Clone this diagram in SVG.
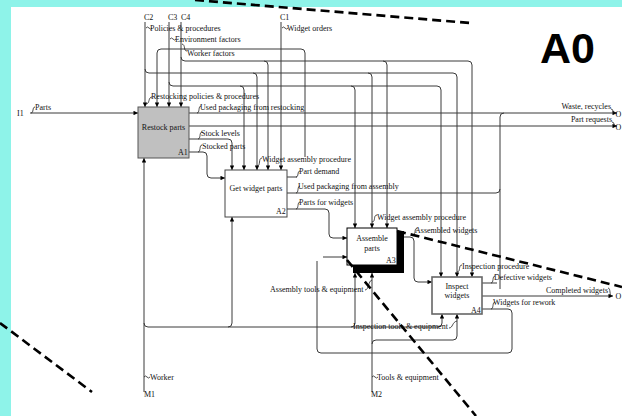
<svg xmlns="http://www.w3.org/2000/svg" width="622" height="416" viewBox="0 0 622 416">
<style>
.t{font-family:"Liberation Serif","Times New Roman",serif;font-size:8px;fill:#111}
.m{text-anchor:middle}
.e{text-anchor:end}
.c{fill:none;stroke:#3a3a3a;stroke-width:1}
.a{marker-end:url(#ah)}
.q{fill:none;stroke:#222;stroke-width:0.8}
.d{fill:none;stroke:#000;stroke-width:2.6;stroke-dasharray:9 5}
.box{fill:#fff;stroke:#444;stroke-width:1}
</style>
<defs>
<marker id="ah" viewBox="0 0 5 5" refX="5" refY="2.5" markerWidth="5" markerHeight="4.5" markerUnits="userSpaceOnUse" orient="auto">
<path d="M0,0 L5,2.5 L0,5 Z" fill="#000"/>
</marker>
</defs>
<rect x="0" y="0" width="622" height="416" fill="#8ef3e9"/>
<rect x="11" y="7" width="611" height="409" fill="#fff"/>
<text x="540" y="63" style="font-family:'Liberation Sans',Arial,sans-serif;font-size:43px;font-weight:bold;fill:#000">A0</text>

<g id="connectors">
<!-- I1 -->
<path class="c a" d="M30,113 H138"/>
<!-- C2 C3 C4 C1 -->
<path class="c a" d="M145,22 V107"/>
<path class="c a" d="M169,22 V107"/>
<path class="c a" d="M181,22 V107"/>
<path class="c a" d="M281,22 V170"/>
<!-- C4 branch y=61 -->
<path class="c a" d="M181,57 Q181,61 185,61 H468 Q472,61 472,65 V277"/>
<path class="c a" d="M264,61 Q268,61 268,65 V170"/>
<path class="c a" d="M383,61 Q387,61 387,65 V228"/>
<!-- C2 branch y=73 -->
<path class="c a" d="M145,69 Q145,73 149,73 H453 Q457,73 457,77 V277"/>
<path class="c a" d="M253,73 Q257,73 257,77 V170"/>
<path class="c a" d="M368,73 Q372,73 372,77 V228"/>
<!-- C3 branch y=86 -->
<path class="c a" d="M169,82 Q169,86 173,86 H437 Q441,86 441,90 V277"/>
<path class="c a" d="M240,86 Q244,86 244,90 V170"/>
<path class="c a" d="M351,86 Q355,86 355,90 V228"/>
<!-- loop to A1 -->
<path class="c a" d="M305,157 V53 Q305,49 301,49 H161 Q157,49 157,53 V107"/>
<!-- A1 outputs -->
<path class="c a" d="M189,113 H617"/>
<path class="c a" d="M189,126 H617"/>
<path class="c a" d="M189,139 H228 Q232,139 232,143 V170"/>
<path class="c a" d="M189,152 H203 Q207,152 207,156 V174 Q207,178 211,178 H225"/>
<!-- A2 outputs -->
<path class="c" d="M287,177 H297"/>
<path class="c" d="M287,193 H496 Q500,193 500,189"/>
<path class="c" d="M500,289 V117 Q500,113 504,113"/>
<path class="c a" d="M287,209 H325 Q329,209 329,213 V234 Q329,238 333,238 H347"/>
<!-- A3 outputs -->
<path class="c a" d="M404,237 H410 Q414,237 414,241 V278 Q414,282 418,282 H432"/>
<!-- A4 outputs -->
<path class="c" d="M482,283 H497"/>
<path class="c a" d="M482,296 H613"/>
<path class="c" d="M482,309 H508 Q512,309 512,313 V349 Q512,353 508,353 H321 Q317,353 317,349 V261"/>
<path class="c a" d="M323,257 H347"/>
<!-- M1 -->
<path class="c a" d="M144,392 V158"/>
<path class="c a" d="M144,323 Q144,327 148,327 H438 Q442,327 442,323 V314"/>
<path class="c a" d="M228,327 Q232,327 232,323 V217"/>
<path class="c a" d="M351,327 Q355,327 355,323 V273"/>
<!-- M2 -->
<path class="c a" d="M372,392 V273"/>
<path class="c a" d="M372,344 Q372,340 376,340 H453 Q457,340 457,336 V314"/>
<!-- squiggles -->
<path class="q" d="M31,113 C34,113 32,107 35,107"/>
<path class="q" d="M146,28 q1.5,-2 3,0 t3,0"/>
<path class="q" d="M170,39 q1.5,-2 3,0 t3,0"/>
<path class="q" d="M182,44 C186,45 183,51 187,51"/>
<path class="q" d="M282,28 q1.5,-2 3,0 t3,0"/>
<path class="q" d="M146,104 C150,104 148,97 152,97"/>
<path class="q" d="M197,113 C200,113 198,106 201,106"/>
<path class="q" d="M198,139 C201,139 199,132 202,132"/>
<path class="q" d="M198,152 C201,152 199,145 202,145"/>
<path class="q" d="M257,166 C261,166 258,158 262,158"/>
<path class="q" d="M296,177 C299,177 297,171 300,171"/>
<path class="q" d="M296,193 C299,193 297,186 300,186"/>
<path class="q" d="M296,209 C299,209 297,202 300,202"/>
<path class="q" d="M372,222 C376,222 373,215 377,215"/>
<path class="q" d="M414,234 C416,233 414,229 417,228"/>
<path class="q" d="M457,272 C461,272 458,265 462,265"/>
<path class="q" d="M491,283 C494,283 492,276 495,276"/>
<path class="q" d="M491,309 C494,309 492,302 495,302"/>
<path class="q" d="M608,288 C611,288 609,296 612,296"/>
<path class="q" d="M611,109 C614,109 612,113 615,113"/>
<path class="q" d="M612,122 C615,122 613,126 616,126"/>
<path class="q" d="M449,328 C453,328 452,322 457,321"/>
<path class="q" d="M365,290 C369,290 368,281 372,280"/>
<path class="q" d="M372,377 q1.5,-2 3,0 t3,0"/>
<path class="q" d="M144,377 q1.5,-2 3,0 t3,0"/>
</g>

<g id="A1">
<rect x="138" y="107" width="51" height="51" fill="#c0c0c0" stroke="#555" stroke-width="1"/>
<text class="t m" x="163.5" y="130">Restock parts</text>
<text class="t" x="178" y="155">A1</text>
</g>
<g id="A2">
<rect class="box" x="225" y="170" width="62" height="47"/>
<text class="t m" x="256" y="191">Get widget parts</text>
<text class="t" x="276" y="214">A2</text>
</g>
<g id="A3">
<path d="M397,231 H404 V273 H353 V265 H397 Z" fill="#000"/>
<rect x="347" y="228" width="50" height="37" fill="#fff" stroke="#000" stroke-width="1"/>
<text class="t m" x="372" y="240.5">Assemble</text>
<text class="t m" x="372" y="251">parts</text>
<text class="t" x="386" y="263">A3</text>
</g>
<g id="A4">
<rect x="432" y="277" width="50" height="37" fill="#fff" stroke="#666" stroke-width="1.6"/>
<text class="t m" x="457" y="288.5">Inspect</text>
<text class="t m" x="457" y="297.5">widgets</text>
<text class="t" x="471" y="313">A4</text>
</g>

<g id="labels">
<text class="t" x="144" y="20">C2</text>
<text class="t" x="168" y="20">C3</text>
<text class="t" x="181" y="20">C4</text>
<text class="t" x="280" y="20">C1</text>
<text class="t" x="150" y="31">Policies &amp; procedures</text>
<text class="t" x="175" y="42">Environment factors</text>
<text class="t" x="187" y="56">Worker factors</text>
<text class="t" x="287" y="31">Widget orders</text>
<text class="t" x="151" y="99">Restocking policies &amp; procedures</text>
<text class="t" x="17" y="116">I1</text>
<text class="t" x="35" y="110">Parts</text>
<text class="t" x="200" y="110">Used packaging from restocking</text>
<text class="t" x="201" y="136">Stock levels</text>
<text class="t" x="202" y="148.5">Stocked parts</text>
<text class="t" x="262" y="162">Widget assembly procedure</text>
<text class="t" x="299" y="174">Part demand</text>
<text class="t" x="298" y="189">Used packaging from assembly</text>
<text class="t" x="299" y="205">Parts for widgets</text>
<text class="t" x="377" y="220">Widget assembly procedure</text>
<text class="t" x="415" y="233">Assembled widgets</text>
<text class="t" x="462" y="268.5">Inspection procedure</text>
<text class="t" x="494" y="280">Defective widgets</text>
<text class="t e" x="608" y="292.5">Completed widgets</text>
<text class="t" x="493" y="305">Widgets for rework</text>
<text class="t" x="270" y="292">Assembly tools &amp; equipment</text>
<text class="t" x="353" y="329">Inspection tools &amp; equipment</text>
<text class="t" x="150" y="380">Worker</text>
<text class="t" x="377" y="380">Tools &amp; equipment</text>
<text class="t" x="144" y="397">M1</text>
<text class="t" x="371" y="397">M2</text>
<text class="t e" x="611" y="109">Waste, recycles</text>
<text class="t e" x="612" y="122">Part requests</text>
<text class="t" x="615.5" y="117">O</text>
<text class="t" x="615.5" y="130">O</text>
<text class="t" x="615.5" y="299">O</text>
</g>

<g id="dashes">
<path class="d" d="M195,0 L470,23"/>
<path class="d" d="M0,323 L92,392"/>
<path class="d" d="M397,231 L622,287"/>
<path class="d" d="M347,260 L476,416"/>
</g>
</svg>
